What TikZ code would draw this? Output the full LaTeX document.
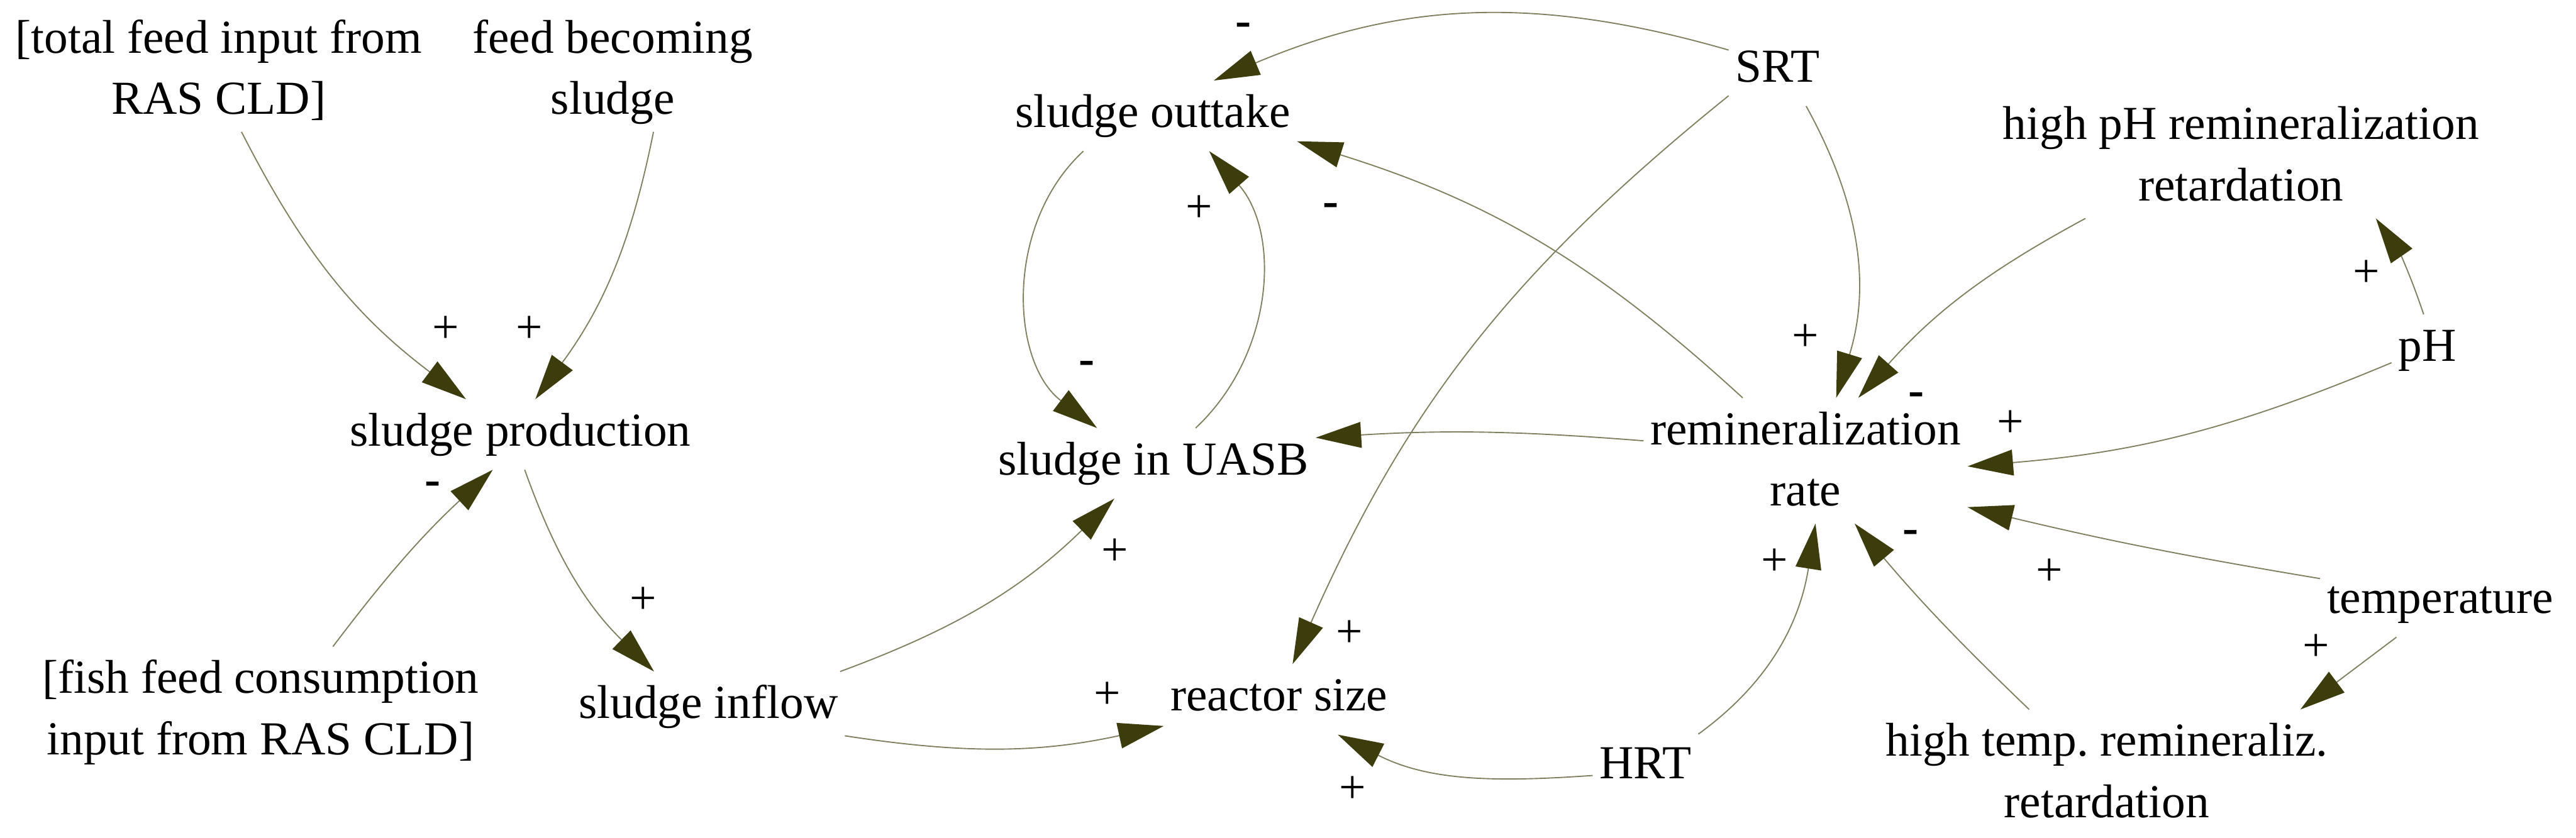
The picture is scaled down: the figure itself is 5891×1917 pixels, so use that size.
\documentclass[tikz,border=0pt]{standalone}
\usepackage{fontspec}
\setmainfont{Liberation Serif}
\usetikzlibrary{arrows.meta}
\definecolor{linec}{RGB}{128,128,96}
\definecolor{headc}{RGB}{60,60,12}
\tikzset{
  txt/.style={font=\fontsize{30.8}{39.8}\selectfont, inner xsep=0.15cm, inner ysep=0.3cm, anchor=base},
  two/.style={txt, align=center, text height=2.16cm, text depth=0.1cm},
  one/.style={txt, text height=0.76cm, text depth=0.24cm},
  sgn/.style={font=\fontsize{30.8}{39.8}\selectfont, inner sep=0pt, anchor=base},
  link/.style={draw=linec, line width=0.027cm, -{Triangle[length=1.04cm,width=0.59cm,color=headc]}},
}
\frenchspacing
\begin{document}
\begin{tikzpicture}[x=0.01cm,y=0.01cm]
\useasboundingbox (0,0) rectangle (5891,-1917);
% variables (two-line nodes are placed at the baseline of their last line)
\node[two] (tf) at (500,-261) {[total feed input from\\RAS CLD]};
\node[two] (fb) at (1401,-261) {feed becoming\\sludge};
\node[one] (sp) at (1190,-1020) {sludge production};
\node[two] (ff) at (596,-1726) {[fish feed consumption\\input from RAS CLD]};
\node[one] (si) at (1620,-1643) {sludge inflow};
\node[one] (so) at (2636,-291) {sludge outtake};
\node[one] (su) at (2638,-1086) {sludge in UASB};
\node[one] (rs) at (2925,-1626) {reactor size};
\node[one] (hrt) at (3763,-1781) {HRT};
\node[one] (srt) at (4065,-188) {SRT};
\node[two] (rr) at (4129,-1157) {remineralization\\rate};
\node[two] (hph) at (5125,-459) {high pH remineralization\\retardation};
\node[one] (ph) at (5551,-826) {pH};
\node[one] (temp) at (5580,-1403) {temperature};
\node[two] (ht) at (4818,-1870) {high temp. remineraliz.\\retardation};
% links
\draw[link] (tf.-70) to[bend right=13] (sp.147.5);
\draw[link] (fb.-57) to[bend left=12.5] (sp.67);
\draw[link] (ff.41) to[bend left=5] (sp.-128);
\draw[link] (sp.-83) to[bend right=13] (si.147);
\draw[link] (si.15) to[bend right=12] (su.-138);
\draw[link] (si.-12) to[bend right=10.5] (rs.-167);
\draw[link] (so.-153) to[bend right=50] (su.148);
\draw[link] (su.40) to[bend right=44] (so.-32.5);
\draw[link] (srt.157) to[bend right=19.5] (so.30);
\draw[link] (rr.135) to[bend right=12.6] (so.-10.7);
\draw[link] (rr.173) to[bend right=4] (su.9.5);
\draw[link] (srt.-153) to[bend right=13.6] (rs.69.5);
\draw[link] (hrt.-171.5) to[out=184,in=-27] (rs.-31);
\draw[link] (hrt.32) to[out=36,in=-99] (rr.-81.7);
\draw[link] (srt.-51) to[bend left=23] (rr.64);
\draw[link] (hph.-158.6) to[bend right=10] (rr.50);
\draw[link] (ph.96) to[bend right=8] (hph.-25);
\draw[link] (ph.-160) to[bend left=9] (rr.-2.6);
\draw[link] (temp.169.4) to[bend left=2] (rr.-16);
\draw[link] (ht.141) to[bend left=3] (rr.-52.3);
\draw[link] (temp.-141.5) -- (ht.18.4);
% polarity signs
\node[sgn] (p1) at (1020,-784) {+};
\node[sgn] (p2) at (1211,-784) {+};
\node[sgn] (p3) at (989,-1133) {\textbf{-}};
\node[sgn] (p4) at (1471,-1405) {+};
\node[sgn] (p5) at (2550,-1294) {+};
\node[sgn] (p6) at (2532,-1621) {+};
\node[sgn] (p7) at (2486,-857) {\textbf{-}};
\node[sgn] (p8) at (2742,-509) {+};
\node[sgn] (p9) at (2843,-82) {\textbf{-}};
\node[sgn] (p10) at (3044,-496) {\textbf{-}};
\node[sgn] (p12) at (3086,-1481) {+};
\node[sgn] (p13) at (3093,-1838) {+};
\node[sgn] (p14) at (4058,-1317) {+};
\node[sgn] (p15) at (4129,-803) {+};
\node[sgn] (p16) at (4383,-928) {\textbf{-}};
\node[sgn] (p17) at (5411,-656) {+};
\node[sgn] (p18) at (4598,-1000) {+};
\node[sgn] (p19) at (4687,-1340) {+};
\node[sgn] (p20) at (4370,-1243) {\textbf{-}};
\node[sgn] (p21) at (5297,-1512) {+};
\end{tikzpicture}
\end{document}
